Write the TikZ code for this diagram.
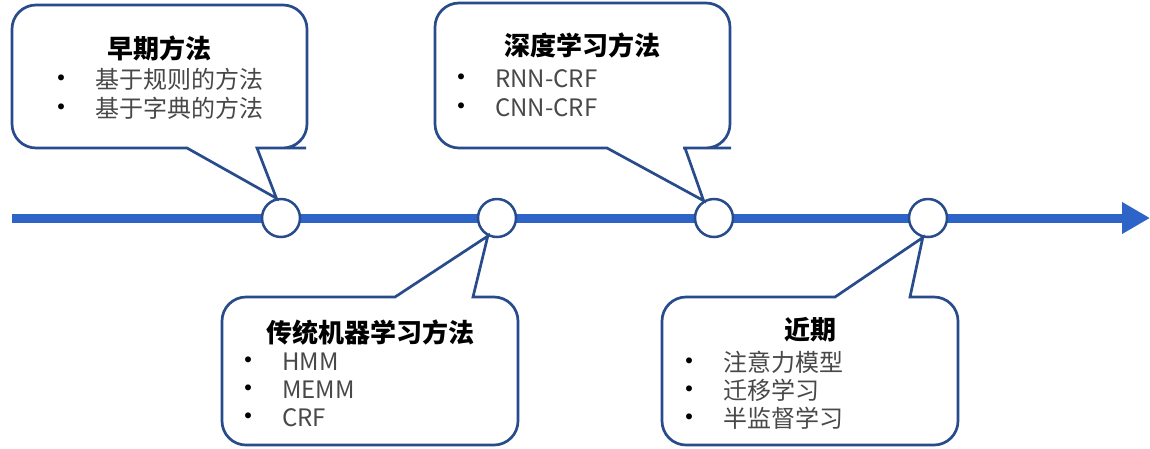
\documentclass[tikz,border=0pt]{standalone}
\usepackage{fontspec}
\setmainfont{Noto Sans CJK SC}
\usetikzlibrary{positioning,arrows.meta,calc}

\definecolor{lineblue}{RGB}{46,100,200}
\definecolor{edgeblue}{RGB}{40,75,140}
\definecolor{itemgray}{RGB}{72,72,72}

\newcommand{\bul}{\makebox[48pt][l]{\textcolor{black}{\fontsize{28}{28}\selectfont •}}}

\begin{document}
\begin{tikzpicture}[
  x=1pt, y=-1pt,
  box/.style={rectangle, minimum width=295pt, minimum height=143pt, inner sep=0pt, outer sep=0pt},
  dot/.style={circle, draw=edgeblue, fill=white, line width=2.5pt, minimum size=38pt, inner sep=0pt},
  bubble/.style={draw=edgeblue, fill=white, line width=2.7pt, line join=miter, rounded corners=24pt},
  headline/.style={font=\fontsize{26}{30}\selectfont\bfseries, inner sep=0pt},
  entry/.style={font=\fontsize{24}{28}\selectfont, text=itemgray, anchor=west, inner sep=0pt}
]
\useasboundingbox (0,0) rectangle (1150,448);

% timeline
\coordinate (start) at (12,218);
\coordinate (end) at (1150,218);
\draw[line width=9pt, lineblue, -{Triangle[length=28pt,width=30pt]}] (start) -- (end);

\node[dot] (c1) at (281,218) {};
\node[dot] (c2) at (497,218) {};
\node[dot] (c3) at (714,218) {};
\node[dot] (c4) at (928,218) {};

% callout boxes
\node[box] (b1) at (159.5,76.5) {};
\node[box, minimum height=145pt] (b2) at (582.5,75.5) {};
\node[box, minimum width=296pt, minimum height=148pt] (b3) at (370,371) {};
\node[box, minimum width=296pt, minimum height=148pt] (b4) at (810,371) {};

% bubbles above the line
\draw[bubble] (b1.north) -- (b1.north east) -- (b1.south east) -- ($(b1.south west)+(270,0)$)
  [sharp corners] -- ($(b1.south west)+(245,0)$) -- (c1.103) -- ($(b1.south west)+(175,0)$)
  -- ($(b1.south west)+(100,0)$)
  [rounded corners=24pt] -- (b1.south west) -- (b1.north west) -- cycle;
\draw[bubble] (b2.north) -- (b2.north east) -- (b2.south east) -- ($(b2.south west)+(272,0)$)
  [sharp corners] -- ($(b2.south west)+(250,0)$) -- (c3.121) -- ($(b2.south west)+(172,0)$)
  -- ($(b2.south west)+(100,0)$)
  [rounded corners=24pt] -- (b2.south west) -- (b2.north west) -- cycle;

% bubbles below the line
\draw[bubble] (b3.south) -- (b3.south west) -- (b3.north west) -- ($(b3.north west)+(100,0)$)
  [sharp corners] -- ($(b3.north west)+(173,0)$) -- (c2.243) -- ($(b3.north west)+(251,0)$)
  -- ($(b3.north west)+(273,0)$)
  [rounded corners=24pt] -- (b3.north east) -- (b3.south east) -- cycle;
\draw[bubble] (b4.south) -- (b4.south west) -- (b4.north west) -- ($(b4.north west)+(100,0)$)
  [sharp corners] -- ($(b4.north west)+(173,0)$) -- (c4.255) -- ($(b4.north west)+(248,0)$)
  -- ($(b4.north west)+(272,0)$)
  [rounded corners=24pt] -- (b4.north east) -- (b4.south east) -- cycle;

% texts
\node[headline] (t1) at ($(b1.north)+(0,43)$) {早期方法};
\node[entry] (e11) at ($(b1.north west)+(35,74)$) {\bul 基于规则的方法};
\node[entry] (e12) at ($(b1.north west)+(35,103)$) {\bul 基于字典的方法};

\node[headline] (t2) at ($(b2.north)+(0,42)$) {深度学习方法};
\node[entry] (e21) at ($(b2.north west)+(12,76)$) {\bul RNN-CRF};
\node[entry] (e22) at ($(b2.north west)+(12,105)$) {\bul CNN-CRF};

\node[headline] (t3) at ($(b3.north)+(0,36)$) {传统机器学习方法};
\node[entry] (e31) at ($(b3.north west)+(12,65)$) {\bul HMM};
\node[entry] (e32) at ($(b3.north west)+(12,93)$) {\bul MEMM};
\node[entry] (e33) at ($(b3.north west)+(12,121)$) {\bul CRF};

\node[headline] (t4) at ($(b4.north)+(0,33)$) {近期};
\node[entry] (e41) at ($(b4.north west)+(13,65)$) {\bul 注意力模型};
\node[entry] (e42) at ($(b4.north west)+(13,93)$) {\bul 迁移学习};
\node[entry] (e43) at ($(b4.north west)+(13,121)$) {\bul 半监督学习};
\end{tikzpicture}
\end{document}
